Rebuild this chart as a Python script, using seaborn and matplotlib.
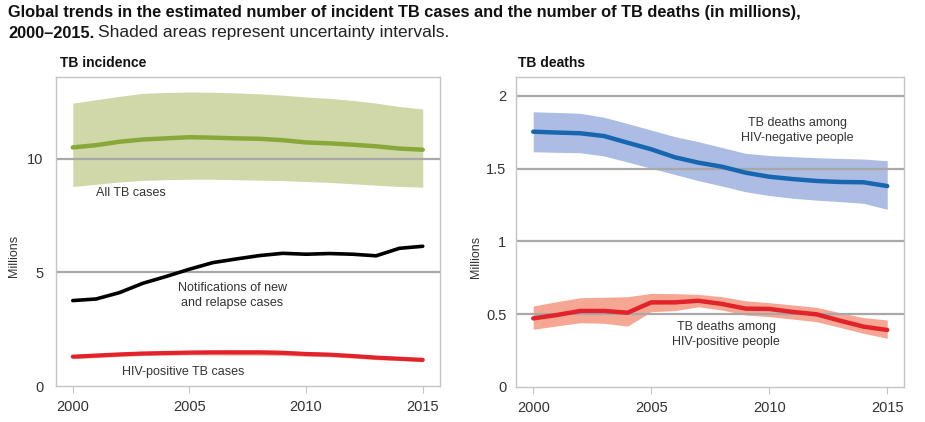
import numpy as np
import pandas as pd
import matplotlib
matplotlib.use("Agg")
import matplotlib.pyplot as plt
import seaborn as sns

years = list(range(2000, 2016))

# TB incidence (millions)
all_tb = [10.5, 10.6, 10.75, 10.85, 10.9, 10.95, 10.93, 10.9, 10.88, 10.82, 10.72, 10.68, 10.62, 10.55, 10.45, 10.4]
all_tb_hi = [12.45, 12.6, 12.75, 12.88, 12.92, 12.94, 12.93, 12.9, 12.86, 12.8, 12.72, 12.66, 12.57, 12.45, 12.3, 12.19]
all_tb_lo = [8.78, 8.88, 8.98, 9.05, 9.08, 9.1, 9.1, 9.08, 9.06, 9.04, 9.0, 8.96, 8.9, 8.84, 8.78, 8.75]
notified = [3.76, 3.83, 4.11, 4.52, 4.82, 5.14, 5.43, 5.59, 5.74, 5.84, 5.80, 5.83, 5.80, 5.73, 6.06, 6.15]
hivpos_tb = [1.29, 1.34, 1.39, 1.43, 1.45, 1.47, 1.48, 1.48, 1.48, 1.46, 1.41, 1.38, 1.32, 1.25, 1.2, 1.15]
hivpos_tb_hi = [1.38, 1.43, 1.48, 1.52, 1.55, 1.57, 1.59, 1.6, 1.6, 1.57, 1.51, 1.47, 1.41, 1.34, 1.28, 1.23]
hivpos_tb_lo = [1.2, 1.25, 1.3, 1.34, 1.36, 1.37, 1.37, 1.36, 1.36, 1.35, 1.31, 1.29, 1.23, 1.16, 1.12, 1.07]

# TB deaths (millions)
hivneg_d = [1.754, 1.748, 1.743, 1.724, 1.678, 1.633, 1.578, 1.541, 1.513, 1.472, 1.444, 1.428, 1.415, 1.408, 1.406, 1.380]
hivneg_d_hi = [1.891, 1.886, 1.880, 1.853, 1.81, 1.765, 1.72, 1.685, 1.645, 1.605, 1.59, 1.582, 1.575, 1.57, 1.566, 1.554]
hivneg_d_lo = [1.616, 1.612, 1.609, 1.587, 1.545, 1.502, 1.46, 1.417, 1.38, 1.341, 1.315, 1.296, 1.283, 1.273, 1.261, 1.22]
hivpos_d = [0.470, 0.493, 0.521, 0.521, 0.509, 0.580, 0.580, 0.591, 0.569, 0.537, 0.535, 0.514, 0.498, 0.454, 0.413, 0.390]
hivpos_d_hi = [0.555, 0.585, 0.612, 0.615, 0.619, 0.642, 0.640, 0.635, 0.619, 0.591, 0.578, 0.562, 0.546, 0.509, 0.475, 0.459]
hivpos_d_lo = [0.395, 0.418, 0.440, 0.436, 0.417, 0.516, 0.523, 0.550, 0.527, 0.493, 0.482, 0.465, 0.447, 0.408, 0.367, 0.333]

left_yticks = [0, 5, 10]
right_yticks = [0, 0.5, 1, 1.5, 2]
right_ylabels = ["0", "0.5", "1", "1.5", "2"]
xticks = [2000, 2005, 2010, 2015]

df_inc = pd.DataFrame({"year": years, "all": all_tb, "notif": notified, "hivpos": hivpos_tb})
df_dth = pd.DataFrame({"year": years, "neg": hivneg_d, "pos": hivpos_d})

sns.set_theme(style="white")
plt.rcParams["font.family"] = ["Liberation Sans Narrow", "Liberation Sans", "DejaVu Sans"]

GREEN, GREEN_F = "#89a83a", "#d0d8a9"
BLUE, BLUE_F = "#1666b0", "#adbce3"
RED, RED_F = "#e3232b", "#f5a794"
GRID = "#a8a8a8"
SPINE = "#c4c4c4"
TXT = "#333333"

fig = plt.figure(figsize=(9.25, 4.22), dpi=100)
ax1 = fig.add_axes([56/925, 1-386/422, 384/925, 309/422])
ax2 = fig.add_axes([516/925, 1-386.7/422, 388/925, 309.4/422])

# Left panel
ax1.fill_between(years, all_tb_lo, all_tb_hi, color=GREEN_F, lw=0, zorder=1)
ax1.fill_between(years, hivpos_tb_lo, hivpos_tb_hi, color=RED_F, lw=0, zorder=1)
for t in left_yticks[1:]:
    ax1.axhline(t, color=GRID, lw=1.6, zorder=2)
sns.lineplot(data=df_inc, x="year", y="all", ax=ax1, color=GREEN, lw=3.2, zorder=3)
sns.lineplot(data=df_inc, x="year", y="notif", ax=ax1, color="black", lw=2.6, zorder=3)
sns.lineplot(data=df_inc, x="year", y="hivpos", ax=ax1, color=RED, lw=3.0, zorder=3)
ax1.set_xlim(1999.28, 2015.74)
ax1.set_ylim(0, 13.6)
ax1.set_yticks(left_yticks)
ax1.set_yticklabels([str(t) for t in left_yticks])

ax1.text(2001.0, 8.5, "All TB cases", fontsize=9, color=TXT, ha="left", va="center")
ax1.text(2006.83, 4.0, "Notifications of new\nand relapse cases", fontsize=9, color=TXT,
         ha="center", va="center", linespacing=1.35)
ax1.text(2002.13, 0.63, "HIV-positive TB cases", fontsize=9, color=TXT, ha="left", va="center")

# Right panel
ax2.fill_between(years, hivneg_d_lo, hivneg_d_hi, color=BLUE_F, lw=0, zorder=1)
ax2.fill_between(years, hivpos_d_lo, hivpos_d_hi, color=RED_F, lw=0, zorder=1)
for t in right_yticks[1:]:
    ax2.axhline(t, color=GRID, lw=1.6, zorder=2)
sns.lineplot(data=df_dth, x="year", y="neg", ax=ax2, color=BLUE, lw=3.2, zorder=3)
sns.lineplot(data=df_dth, x="year", y="pos", ax=ax2, color=RED, lw=3.2, zorder=3)
ax2.set_xlim(1999.27, 2015.71)
ax2.set_ylim(0, 2.128)
ax2.set_yticks(right_yticks)
ax2.set_yticklabels(right_ylabels)

ax2.text(2011.19, 1.765, "TB deaths among\nHIV-negative people", fontsize=9, color=TXT,
         ha="center", va="center", linespacing=1.35)
ax2.text(2008.17, 0.359, "TB deaths among\nHIV-positive people", fontsize=9, color=TXT,
         ha="center", va="center", linespacing=1.35)

for ax, pad in ((ax1, 9), (ax2, 7)):
    ax.set_xticks(xticks)
    ax.set_xticklabels([str(x) for x in xticks])
    ax.set_xlabel("")
    ax.set_ylabel("Millions", fontsize=9, color=TXT)
    for s in ax.spines.values():
        s.set_color(SPINE)
        s.set_linewidth(1.0)
        s.set_visible(True)
    ax.tick_params(axis="x", which="both", bottom=True, length=5, width=0.8, color=SPINE,
                   labelsize=10.5, labelcolor=TXT, pad=5, direction="out")
    ax.tick_params(axis="y", which="both", left=False, length=0, labelsize=10.5,
                   labelcolor=TXT, pad=pad)
    ax.grid(False)

ax1.yaxis.set_label_coords(-0.094, 0.42)
ax2.yaxis.set_label_coords(-0.088, 0.42)

fig.text(60/925, 1-63/422, "TB incidence", fontsize=10, fontweight="bold", color="#111111",
         ha="left", va="center")
fig.text(518/925, 1-63/422, "TB deaths", fontsize=10, fontweight="bold", color="#111111",
         ha="left", va="center")

fig.text(8/925, 1-12/422, "Global trends in the estimated number of incident TB cases and the number of TB deaths (in millions),",
         fontsize=11.8, fontweight="bold", color="#111111", ha="left", va="center")
t1 = fig.text(8/925, 1-33/422, "2000\u20132015.", fontsize=11.8, fontweight="bold", color="#111111",
              ha="left", va="center")
fig.canvas.draw()
bb = t1.get_window_extent()
fig.text(bb.x1/925 + 4/925, 1-33/422, "Shaded areas represent uncertainty intervals.",
         fontsize=12.5, color="#222222", ha="left", va="center")

fig.savefig("out.png", dpi=100)
